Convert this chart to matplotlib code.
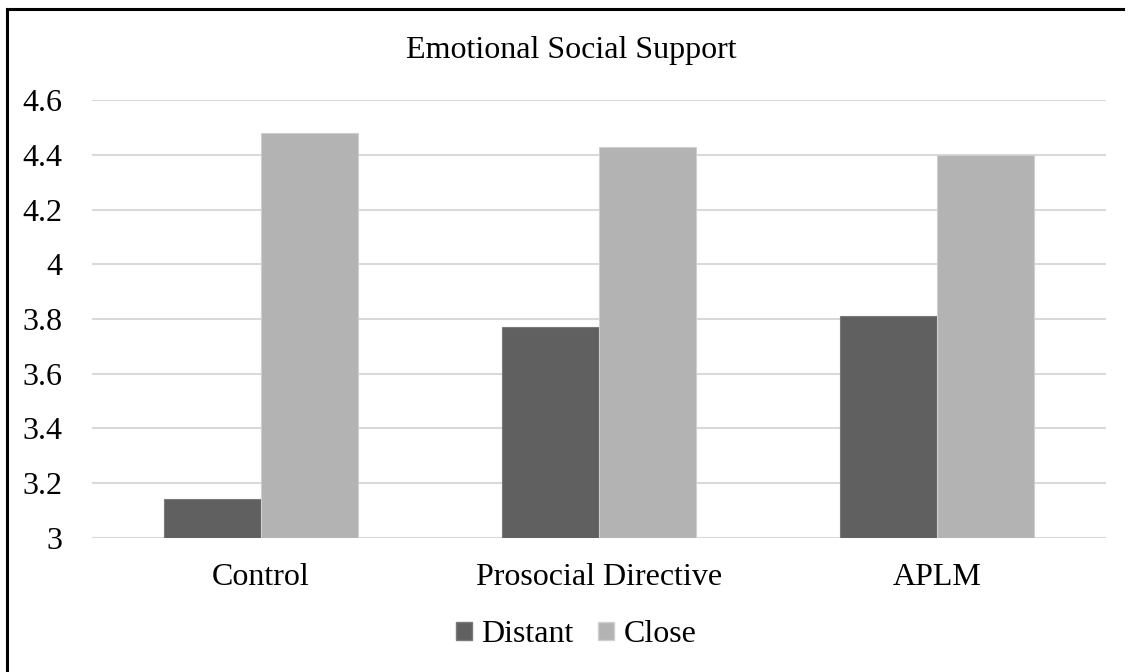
import matplotlib
matplotlib.use("Agg")
import matplotlib.pyplot as plt
from matplotlib.patches import Patch
from matplotlib.lines import Line2D
import numpy as np

categories = ["Control", "Prosocial Directive", "APLM"]
series_names = ["Distant", "Close"]
distant = [3.14, 3.77, 3.81]
close = [4.48, 4.43, 4.40]
y_ticks = [3, 3.2, 3.4, 3.6, 3.8, 4, 4.2, 4.4, 4.6]
y_tick_labels = ["3", "3.2", "3.4", "3.6", "3.8", "4", "4.2", "4.4", "4.6"]
title = "Emotional Social Support"

plt.rcParams["font.family"] = ["Liberation Serif", "DejaVu Serif"]
FS = 23

fig = plt.figure(figsize=(11.29, 6.72), dpi=100)
fig.patch.set_facecolor("white")
ax = fig.add_axes([0.0815, 0.1998, 0.8981, 0.6509])

x = np.arange(len(categories))
w = 0.287
ax.bar(x - w / 2, np.array(distant) - 3, w, bottom=3, color="#606060",
       edgecolor="#7a7a7a", linewidth=0.8, zorder=3)
ax.bar(x + w / 2, np.array(close) - 3, w, bottom=3, color="#b3b3b3",
       edgecolor="#cfcfcf", linewidth=0.8, zorder=3)

ax.set_xlim(-0.5, 2.5)
ax.set_ylim(3, 4.6)
ax.set_yticks(y_ticks)
ax.set_yticklabels(y_tick_labels, fontsize=FS)
ax.set_xticks(x)
ax.set_xticklabels(categories, fontsize=FS)
ax.tick_params(axis="y", length=0, pad=21)
ax.tick_params(axis="x", length=0, pad=18)
ax.grid(axis="y", color="#d9d9d9", linewidth=1.5, zorder=0)
for s in ax.spines.values():
    s.set_visible(False)

fig.text(571 / 1129, 1 - 58.3 / 672, title, fontsize=FS, ha="center",
         va="baseline")

handles = [Patch(facecolor="#606060", edgecolor="#7a7a7a"),
           Patch(facecolor="#b3b3b3", edgecolor="#cfcfcf")]
fig.legend(handles, series_names, loc="center", ncol=2,
           bbox_to_anchor=(576 / 1129, 1 - 635 / 672), frameon=False,
           fontsize=FS, handlelength=0.5, handleheight=0.5,
           handletextpad=0.3, columnspacing=0.75, borderpad=0)

# outer frame: top and left edges
fig.add_artist(Line2D([7 / 1129, 1123 / 1129], [1 - 9 / 672, 1 - 9 / 672],
                      color="black", linewidth=2.2,
                      transform=fig.transFigure, solid_capstyle="projecting"))
fig.add_artist(Line2D([7 / 1129, 7 / 1129], [1 - 9 / 672, 0],
                      color="black", linewidth=2.2,
                      transform=fig.transFigure, solid_capstyle="projecting"))

fig.savefig("out.png", dpi=100)
